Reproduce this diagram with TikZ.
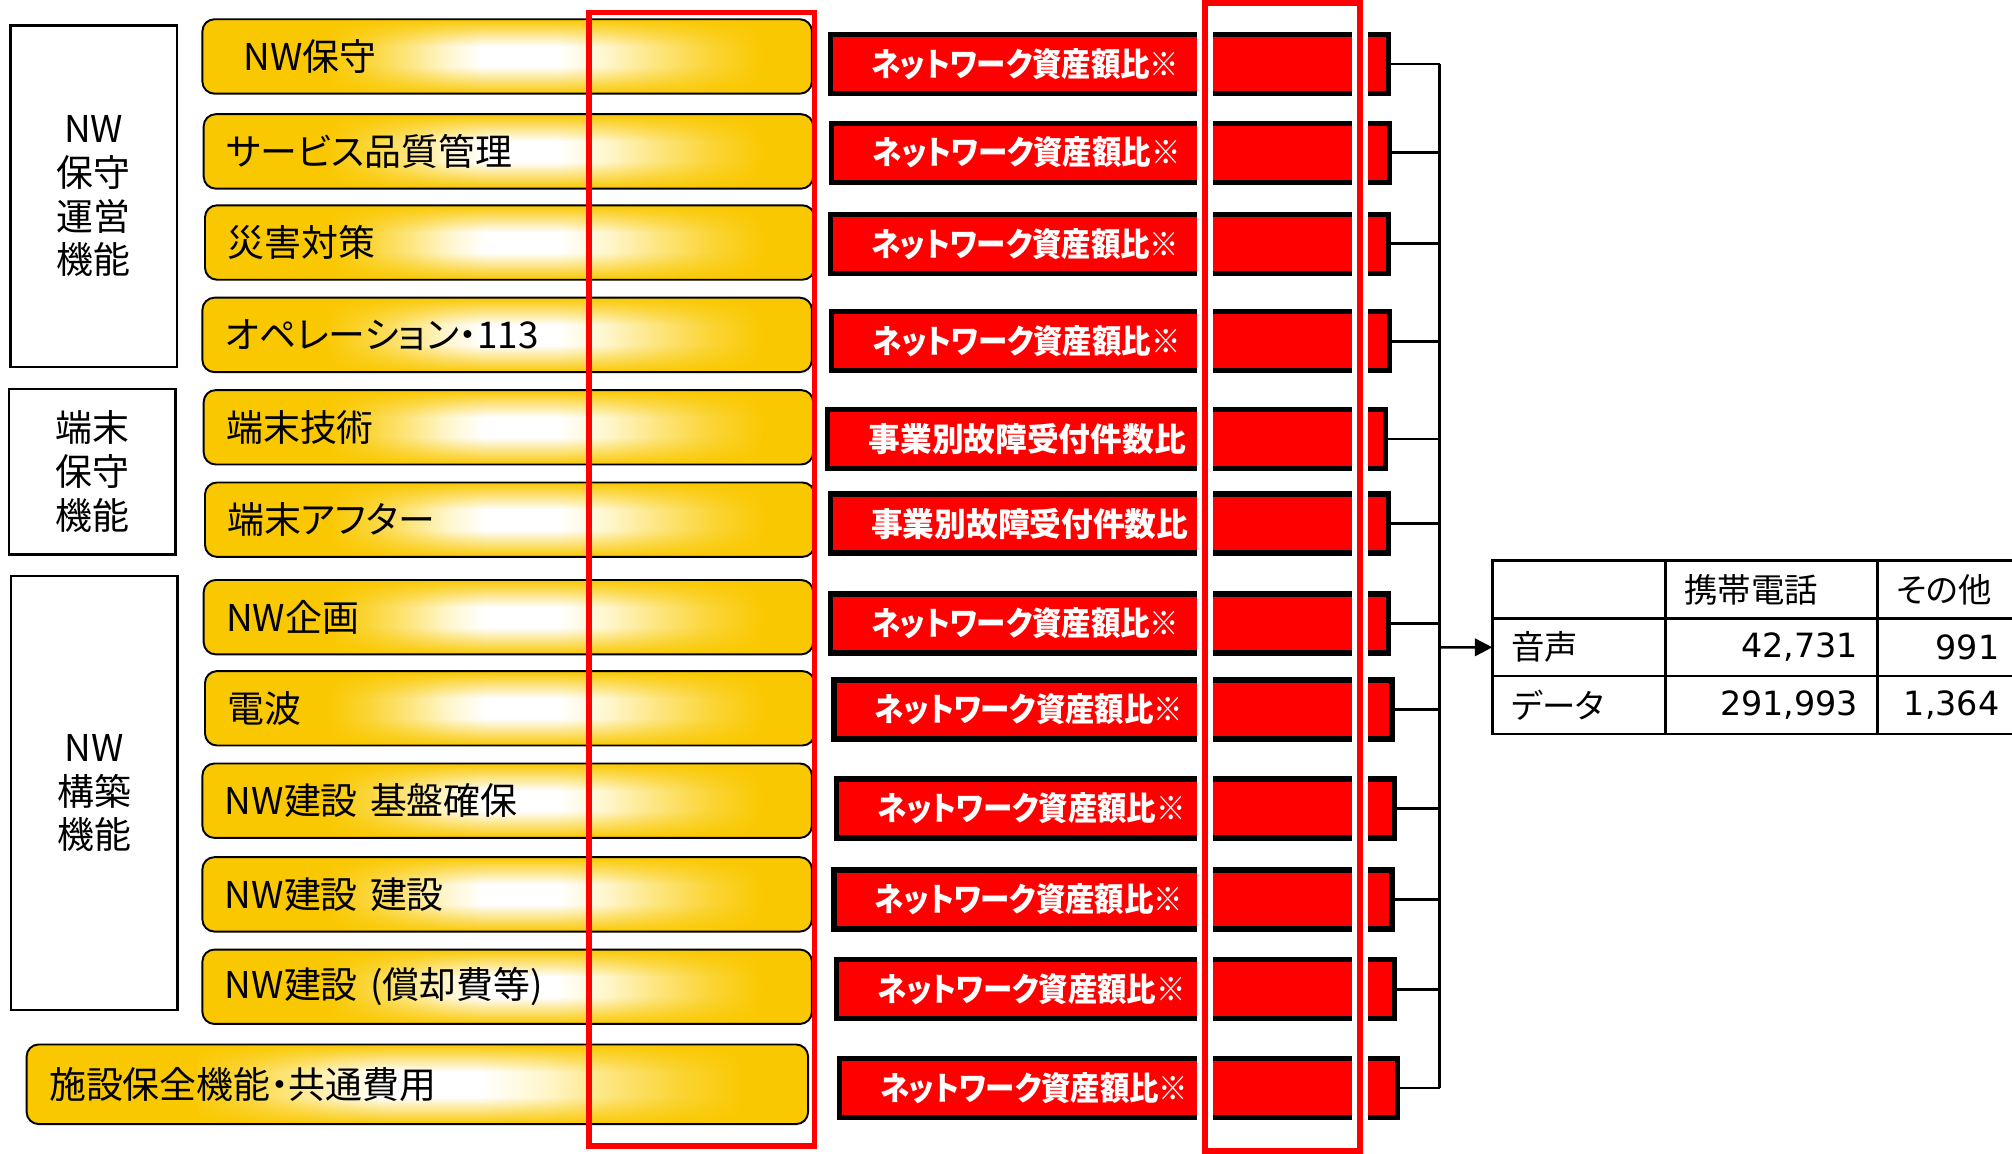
\documentclass[tikz,border=0pt]{standalone}
\usepackage{fontspec}
\setmainfont{Noto Sans CJK JP}[RawFeature=+palt]
\newfontfamily\numfont{DejaVu Sans}
\usetikzlibrary{arrows.meta, positioning, fadings}

\definecolor{ygold}{RGB}{250,200,0}
\definecolor{ypale}{RGB}{255,246,205}
\definecolor{ylight}{RGB}{253,230,130}
\definecolor{ymid}{RGB}{251,213,55}
\pgfdeclarehorizontalshading{yband}{100bp}{color(0bp)=(ygold); color(35bp)=(ygold); color(38.5bp)=(ymid);
  color(42bp)=(ylight); color(45bp)=(ypale); color(48bp)=(white); color(54bp)=(white); color(58bp)=(ypale);
  color(62bp)=(ylight); color(66.5bp)=(ymid); color(71bp)=(ygold); color(100bp)=(ygold)}
\tikzfading[name=edgeTop, top color=transparent!0, bottom color=transparent!100]
\tikzfading[name=edgeBottom, top color=transparent!100, bottom color=transparent!0]

\begin{document}
\begin{tikzpicture}[
    x=0.012832cm, y=-0.012832cm,
    grp/.style={rectangle, draw=black, line width=0.75pt, minimum width=1.668cm,
                align=center, font=\fontsize{10.5}{12.4}\selectfont},
    ybox/.style={rectangle, rounded corners=0.12cm, draw=black, line width=0.55pt, fill=ygold,
                 minimum height=0.744cm, text width=5.645cm, inner xsep=0.225cm, align=left, anchor=west,
                 font=\fontsize{10.5}{12.4}\selectfont,
                 path picture={
                   \shade[shading=yband] ([xshift=-6.095cm]path picture bounding box.south east)
                     rectangle (path picture bounding box.north east);
                   \fill[ygold, path fading=edgeTop] (path picture bounding box.north west)
                     rectangle ([yshift=-0.27cm]path picture bounding box.north east);
                   \fill[ygold, path fading=edgeBottom] (path picture bounding box.south west)
                     rectangle ([yshift=0.27cm]path picture bounding box.south east);}},
    rbox/.style={rectangle, draw=black, line width=1.5pt, fill=red, text=white,
                 minimum height=0.59cm, text width=4.76cm, inner xsep=0.41cm, align=left, anchor=west,
                 font=\fontsize{9.3}{11}\selectfont\bfseries\addfontfeatures{FakeStretch=0.9}},
    rwide/.style={font=\fontsize{9.3}{11}\selectfont\bfseries\addfontfeatures{FakeStretch=0.97}},
    cell/.style={rectangle, draw=black, line width=0.75pt, outer sep=0pt, minimum height=0.577cm,
                 inner xsep=0.19cm, inner ysep=0pt, font=\fontsize{9.5}{11}\selectfont},
    cellA/.style={cell, text width=1.352cm, align=left},
    cellB/.style={cell, text width=1.737cm, align=right},
    cellC/.style={cell, text width=1.032cm, align=right},
    conn/.style={draw=black, line width=0.75pt},
    arrow/.style={conn, -{Triangle[length=5pt, width=5pt]}},
    frameA/.style={draw=red, line width=1.5pt},
    frameB/.style={draw=red, line width=1.8pt, preaction={draw=white, line width=4.4pt}}
]
\useasboundingbox (0,0) rectangle (1568,899);
\clip (0,0) rectangle (1568,899);

% function groups
\node (gOps) [grp, minimum height=3.413cm] at (73,153) {NW\\保守\\運営\\機能};
\node (gTerm) [grp, minimum height=1.655cm] at (72,367.5) {端末\\保守\\機能};
\node (gBuild) [grp, minimum height=4.337cm] at (73.5,618) {NW\\構築\\機能};

% cost items
\node (yMaint) [ybox] at (157,44) {\hspace*{0.5em}NW保守};
\node (yQuality) [ybox] at (158,118) {サービス品質管理};
\node (yDisaster) [ybox] at (159,189) {災害対策};
\node (yOper) [ybox] at (157,261) {オペレーション・113};
\node (yTermTech) [ybox] at (158,333) {端末技術};
\node (yTermAfter) [ybox] at (159,405) {端末アフター};
\node (yPlan) [ybox] at (158,481) {NW企画};
\node (yRadio) [ybox] at (159,552) {電波};
\node (yBase) [ybox] at (157,624) {NW建設 基盤確保};
\node (yConst) [ybox] at (157,697) {NW建設 建設};
\node (yDepr) [ybox] at (157,769) {NW建設 (償却費等)};
\node (yFacil) [ybox, text width=7.365cm, minimum height=0.796cm] at (20,845) {施設保全機能・共通費用};

% allocation keys
\node (rMaint) [rbox] at (645,50) {ネットワーク資産額比※};
\node (rQuality) [rbox] at (646,119) {ネットワーク資産額比※};
\node (rDisaster) [rbox] at (645,190) {ネットワーク資産額比※};
\node (rOper) [rbox] at (646,266) {ネットワーク資産額比※};
\node (rTermTech) [rbox, rwide] at (643,342) {事業別故障受付件数比};
\node (rTermAfter) [rbox, rwide] at (645,408) {事業別故障受付件数比};
\node (rPlan) [rbox] at (645,486) {ネットワーク資産額比※};
\node (rRadio) [rbox] at (648,553) {ネットワーク資産額比※};
\node (rBase) [rbox] at (650,630) {ネットワーク資産額比※};
\node (rConst) [rbox] at (648,701) {ネットワーク資産額比※};
\node (rDepr) [rbox] at (650,771) {ネットワーク資産額比※};
\node (rFacil) [rbox] at (652,848) {ネットワーク資産額比※};

% result table
\node (cCorner) [cellA, anchor=west] at (1163,459.5) {};
\node (cMobileH) [cellB, align=left, right=0pt of cCorner] {携帯電話};
\node (cOtherH) [cellC, align=left, right=0pt of cMobileH] {その他};
\node (cVoice) [cellA, below=0pt of cCorner] {音声};
\node (cVoiceM) [cellB, right=0pt of cVoice] {\numfont 42,731};
\node (cVoiceO) [cellC, right=0pt of cVoiceM] {\numfont 991};
\node (cData) [cellA, below=0pt of cVoice] {データ};
\node (cDataM) [cellB, right=0pt of cData] {\numfont 291,993};
\node (cDataO) [cellC, right=0pt of cDataM] {\numfont 1,364};

\coordinate (bus) at (1122,504.5);

\draw [conn] (rMaint.east) -- (rMaint.east -| bus);
\draw [conn] (rQuality.east) -- (rQuality.east -| bus);
\draw [conn] (rDisaster.east) -- (rDisaster.east -| bus);
\draw [conn] (rOper.east) -- (rOper.east -| bus);
\draw [conn] (rTermTech.east) -- (rTermTech.east -| bus);
\draw [conn] (rTermAfter.east) -- (rTermAfter.east -| bus);
\draw [conn] (rPlan.east) -- (rPlan.east -| bus);
\draw [conn] (rRadio.east) -- (rRadio.east -| bus);
\draw [conn] (rBase.east) -- (rBase.east -| bus);
\draw [conn] (rConst.east) -- (rConst.east -| bus);
\draw [conn] (rDepr.east) -- (rDepr.east -| bus);
\draw [conn] (rFacil.east) -- (rFacil.east -| bus);
\draw [conn] (rMaint.east -| bus) -- (rFacil.east -| bus);
\draw [arrow] (bus) -- (cVoice.west);

% highlight frames
\draw [frameA] (459,10) rectangle (635,893);
\draw [frameB] (939,2) rectangle (1060,897);

\end{tikzpicture}
\end{document}
